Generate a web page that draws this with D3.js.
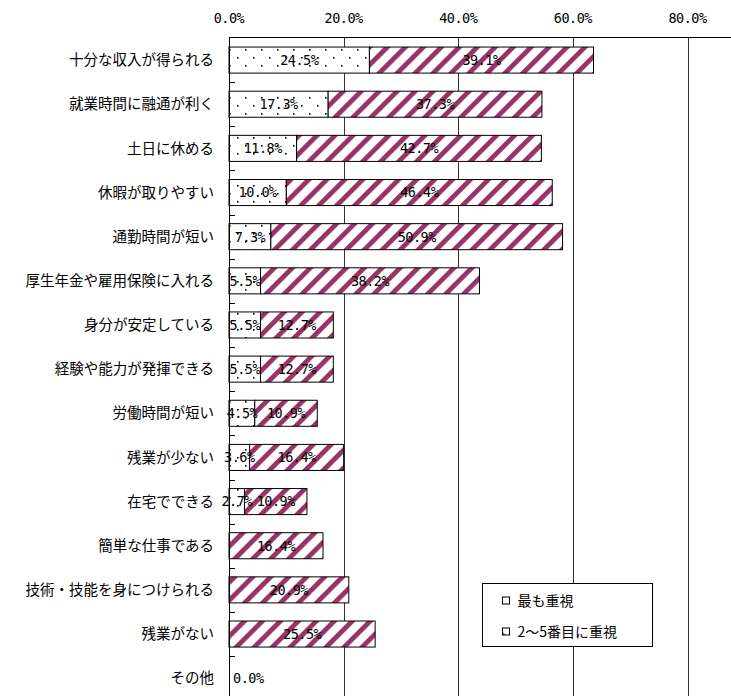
<!DOCTYPE html>
<html>
<head>
<meta charset="utf-8">
<script src="https://cdn.jsdelivr.net/npm/d3@7"></script>
<style>
  body { margin: 0; background: #fff; }
  .cat { font-family: "Noto Sans CJK JP", sans-serif; font-size: 14.5px; fill: #000; }
  .num { font-family: "DejaVu Sans Mono", monospace; font-size: 13.5px; letter-spacing: -0.5px; fill: #000; }
  .leg { font-family: "Noto Sans CJK JP", sans-serif; font-size: 14px; fill: #000; }
</style>
</head>
<body>
<div id="chart"></div>
<script>
var categories = ["十分な収入が得られる", "就業時間に融通が利く", "土日に休める", "休暇が取りやすい",
  "通勤時間が短い", "厚生年金や雇用保険に入れる", "身分が安定している", "経験や能力が発揮できる",
  "労働時間が短い", "残業が少ない", "在宅でできる", "簡単な仕事である",
  "技術・技能を身につけられる", "残業がない", "その他"];
var most = [24.5, 17.3, 11.8, 10.0, 7.3, 5.5, 5.5, 5.5, 4.5, 3.6, 2.7, 0, 0, 0, 0];
var second = [39.1, 37.3, 42.7, 46.4, 50.9, 38.2, 12.7, 12.7, 10.9, 16.4, 10.9, 16.4, 20.9, 25.5, 0];
var seriesNames = ["最も重視", "2～5番目に重視"];
var ticks = [0, 20, 40, 60, 80];

var W = 731, H = 696;
var svg = d3.select("#chart").append("svg").attr("width", W).attr("height", H);

var x = d3.scaleLinear().domain([0, 80]).range([229, 687.5]);
var y = d3.scaleBand().domain(categories).range([38, 38 + 15 * 44.15])
  .paddingInner(0.41).paddingOuter(0.205);

var defs = svg.append("defs");
var dots = defs.append("pattern").attr("id", "dots").attr("patternUnits", "userSpaceOnUse")
  .attr("width", 16).attr("height", 16).attr("x", 229).attr("y", 49);
dots.append("rect").attr("width", 16).attr("height", 16).attr("fill", "#fff");
dots.append("rect").attr("x", 0).attr("y", 0).attr("width", 1.6).attr("height", 1.6).attr("fill", "#000");
dots.append("rect").attr("x", 8).attr("y", 8).attr("width", 1.6).attr("height", 1.6).attr("fill", "#000");

var stripes = defs.append("pattern").attr("id", "stripes").attr("patternUnits", "userSpaceOnUse")
  .attr("width", 12.7).attr("height", 12.7).attr("patternTransform", "rotate(45)");
stripes.append("rect").attr("width", 12.7).attr("height", 12.7).attr("fill", "#fff");
stripes.append("rect").attr("width", 4.8).attr("height", 12.7).attr("fill", "#993366");

// small legend swatch: mostly white with a corner of the stripe colour
var swatch = defs.append("pattern").attr("id", "swatch").attr("patternUnits", "objectBoundingBox")
  .attr("width", 1).attr("height", 1);
swatch.append("rect").attr("width", 7).attr("height", 7).attr("fill", "#fff");
swatch.append("path").attr("d", "M0,4 L3,7 L0,7 Z").attr("fill", "#993366");

// gridlines
svg.append("g").selectAll("line").data(ticks.slice(1)).enter().append("line")
  .attr("x1", function(d){ return Math.round(x(d)) + 0.5; })
  .attr("x2", function(d){ return Math.round(x(d)) + 0.5; })
  .attr("y1", 37.5).attr("y2", H)
  .attr("stroke", "#333").attr("stroke-width", 1);

// top axis
svg.append("line").attr("x1", x(0)).attr("x2", W).attr("y1", 37.5).attr("y2", 37.5)
  .attr("stroke", "#000");
svg.append("g").selectAll("text").data(ticks).enter().append("text")
  .attr("class", "num")
  .attr("x", function(d){ return x(d); })
  .attr("y", 23)
  .attr("text-anchor", "middle")
  .text(function(d){ return d.toFixed(1) + "%"; });

// rows
var rows = categories.map(function(c, i){ return {cat: c, a: most[i], b: second[i]}; });

var g = svg.append("g");
rows.forEach(function(d){
  var y0 = y(d.cat), h = y.bandwidth();
  if (d.a > 0) {
    g.append("rect").attr("x", x(0)).attr("y", y0).attr("width", x(d.a) - x(0)).attr("height", h)
      .attr("fill", "url(#dots)").attr("stroke", "#000").attr("stroke-width", 1);
  }
  if (d.b > 0) {
    g.append("rect").attr("x", x(d.a)).attr("y", y0).attr("width", x(d.a + d.b) - x(d.a)).attr("height", h)
      .attr("fill", "url(#stripes)").attr("stroke", "#000").attr("stroke-width", 1);
  }
});

// left axis
svg.append("line").attr("x1", x(0) + 0.5).attr("x2", x(0) + 0.5).attr("y1", 37.5).attr("y2", H)
  .attr("stroke", "#000");
svg.append("g").selectAll("line").data(categories.slice(1)).enter().append("line")
  .attr("x1", x(0)).attr("x2", x(0) + 6)
  .attr("y1", function(d){ return Math.round(y(d) - y.step() * 0.205) + 0.5; })
  .attr("y2", function(d){ return Math.round(y(d) - y.step() * 0.205) + 0.5; })
  .attr("stroke", "#000");

// category labels
svg.append("g").selectAll("text").data(categories).enter().append("text")
  .attr("class", "cat")
  .attr("x", 214)
  .attr("y", function(d){ return y(d) + y.bandwidth() / 2; })
  .attr("dy", "0.36em")
  .attr("text-anchor", "end")
  .text(function(d){ return d; });

// value labels
var lab = svg.append("g");
rows.forEach(function(d){
  var cy = y(d.cat) + y.bandwidth() / 2;
  if (d.a > 0) {
    lab.append("text").attr("class", "num").attr("x", (x(0) + x(d.a)) / 2).attr("y", cy)
      .attr("dy", "0.36em").attr("text-anchor", "middle").text(d.a.toFixed(1) + "%");
  }
  if (d.b > 0) {
    lab.append("text").attr("class", "num").attr("x", (x(d.a) + x(d.a + d.b)) / 2).attr("y", cy)
      .attr("dy", "0.36em").attr("text-anchor", "middle").text(d.b.toFixed(1) + "%");
  }
  if (d.a === 0 && d.b === 0) {
    lab.append("text").attr("class", "num").attr("x", x(0) + 4).attr("y", cy)
      .attr("dy", "0.36em").attr("text-anchor", "start").text((0).toFixed(1) + "%");
  }
});

// legend
var leg = svg.append("g").attr("transform", "translate(482.5,583.5)");
leg.append("rect").attr("width", 170).attr("height", 63).attr("fill", "#fff").attr("stroke", "#000");
seriesNames.forEach(function(n, i){
  var yy = 17 + i * 31;
  leg.append("rect").attr("x", 20).attr("y", yy - 3.5).attr("width", 7).attr("height", 7)
    .attr("fill", i === 0 ? "#fff" : "url(#swatch)").attr("stroke", "#000");
  leg.append("text").attr("class", "leg").attr("x", 35).attr("y", yy).attr("dy", "0.36em").text(n);
});
</script>
</body>
</html>
